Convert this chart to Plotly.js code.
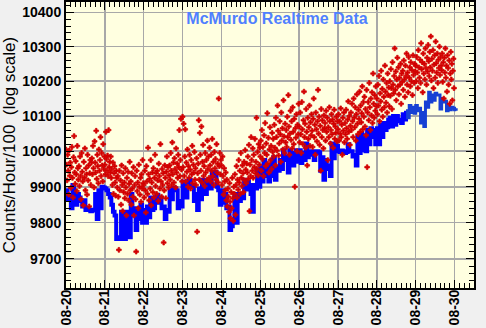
<!DOCTYPE html>
<html>
<head>
<meta charset="utf-8">
<script src="https://cdn.plot.ly/plotly-3.0.1.min.js"></script>
<style>html,body{margin:0;padding:0;background:#f0f0f0;}#chart{width:486px;height:328px;}</style>
</head>
<body>
<div id="chart"></div>
<script>
// ---- data ----
const chartTitle = 'McMurdo Realtime Data';
const yTitle = 'Counts/Hour/100\u00a0 (log scale)';
const xTickLabels = ['08-20','08-21','08-22','08-23','08-24','08-25','08-26','08-27','08-28','08-29','08-30'];
const yTickVals = [9700, 9800, 9900, 10000, 10100, 10200, 10300, 10400];

// red points: one value every 20 minutes, starting 08-20 00:00
const redStart = '2014-08-20T00:00:00Z';
const redStepMinutes = 20;
const red20 = [10005,9962,9918,9990,9945,9878,10002,9931,9968,9897,9955,10012,9925,9870,9983,10043,9940,9908,9972,9935,9888,10015,9952,9920,
  9958,9902,9985,9930,9865,9995,9942,9915,9848,9970,9925,10008,9890,9952,9935,9878,9990,9918,9960,9845,9938,9975,9905,9968,
  9980,9935,10015,9952,9898,10028,9968,9940,10058,9922,9990,9958,9910,10005,9945,9975,10040,9930,9995,9960,9915,10020,9950,9985];
const red21 = [9962,9935,10055,9978,9945,9988,9930,10060,9955,9970,9940,9985,9925,9950,9905,9968,9880,9938,9958,9912,9875,9945,9925,9898,
  9930,9872,9725,9945,9890,9918,9850,9960,9905,9832,9938,9885,9912,9868,9952,9898,9820,9925,9880,9942,9862,9908,9970,9890,
  9915,9850,9938,9895,9872,9955,9820,9905,9930,9865,9720,9945,9888,9912,9840,9962,9900,9878,9925,9858,9935,9895,9975,9910];
const red22 = [9905,9870,9945,9890,9828,9958,9915,9880,10010,9935,9862,9922,9895,9975,9848,9912,9940,9885,9952,9870,9925,9990,9902,9938,
  9880,9945,9918,9860,9965,9930,9895,10020,9915,9872,9950,9905,9938,9745,9890,9960,9925,9868,9942,9985,9910,9955,9898,9932,
  9960,9920,9995,9945,9905,10025,9935,9968,9912,9980,9950,9898,10008,9940,9965,9925,9990,9955,10060,9930,9975,10092,9948,9915];
const red23 = [10098,9955,10078,9930,9985,10062,9915,9968,9942,10005,9900,9958,9925,9990,9948,9895,9975,9935,10015,9910,9962,9940,9998,9920,
  9952,9905,9980,9775,9938,9965,10088,9920,10052,9990,9945,10070,9912,9970,10018,9930,9958,9902,9995,9940,9975,9918,10030,9950,
  9985,9925,10010,9960,9915,9990,9945,10035,9930,9970,9905,9998,9952,9978,9920,10020,9940,9965,9912,10150,9958,9995,9935,9975];
const red24 = [9960,9905,9985,9930,9878,9952,9915,9890,9940,9862,9920,9845,9895,9872,9830,9910,9858,9812,9885,9840,9925,9868,9805,9900,
  9880,9935,9822,9905,9958,9870,9920,9892,9975,9912,9945,9880,9995,9925,9902,9960,9938,9885,9970,9918,10003,9948,9910,9965,
  9940,9985,9922,10018,9832,9962,9930,10040,9975,9945,10008,9925,9990,9955,10035,9938,9970,10095,9950,9998,9932,10020,9962,10010];
const red25 = [9985,10030,9945,10060,9978,10012,9930,10045,9995,10080,9958,10022,9990,10108,9965,10038,9940,10005,10068,9975,10015,9950,10052,9998,
  10035,9985,10075,10010,9960,10095,10040,10002,10130,10058,9988,10022,10085,10048,9970,10110,10030,10065,10005,10145,10042,9995,10078,10025,
  10060,10012,10098,10040,10160,10070,9990,10050,10115,10032,10085,10008,10125,10055,10020,10092,9900,10065,10038,10105,10000,10075,10048,10135];
const red26 = [10070,10025,10110,10048,9995,10140,10062,10020,10088,10170,10040,10078,10010,10120,10055,9960,10095,10035,10068,10130,10015,10082,10045,10105,
  10058,10012,10092,10150,10040,10075,9990,10110,10062,10028,10085,10175,10050,10098,10018,10072,9945,10120,10040,10088,10060,10008,10102,10065,
  10080,10030,10115,10055,10095,9975,10068,10040,10125,10085,10022,10060,10105,10048,10090,10010,10078,10118,10035,10070,10052,10098,10028,10085];
const red27 = [10062,10105,10030,10085,10050,10122,10040,10075,9990,10095,10058,10110,10025,10080,10048,10118,10065,10035,10090,10142,10055,10100,10018,10072,
  10110,10060,10135,10085,10040,10150,10095,10068,10125,10030,10105,10162,10078,10048,10118,10092,10170,10055,10130,10082,10108,10185,10062,10140,
  10098,10155,10070,10120,10045,10175,9955,10110,10140,10088,10195,10125,10060,10150,10102,10168,10080,10222,10135,10095,10160,10115,10185,10128];
const red28 = [10150,10105,10190,10130,10215,10085,10165,10142,10230,10118,10178,10098,10205,10155,10125,10245,10170,10138,10195,10110,10222,10160,10182,10128,
  10200,10158,10235,10180,10120,10255,10190,10165,10215,10295,10175,10228,10145,10205,10268,10185,10240,10162,10210,10190,10250,10135,10222,10198,
  10230,10175,10260,10205,10155,10245,10215,10280,10190,10225,10168,10270,10210,10240,10185,10255,10200,10232,10160,10275,10218,10195,10250,10228];
const red29 = [10245,10200,10270,10225,10180,10290,10240,10210,10262,10195,10310,10235,10255,10168,10280,10222,10250,10205,10295,10238,10190,10268,10228,10305,
  10258,10215,10285,10240,10330,10202,10265,10230,10290,10180,10248,10275,10210,10315,10252,10225,10280,10195,10262,10238,10300,10218,10270,10245,
  10232,10280,10198,10255,10150,10268,10225,10295,10210,10245,10170,10275,10238,10190,10260,10135,10222,10285,10205,10250,10145,10230,10265,10180];

// blue line: hourly values starting 08-20 00:00
const blueStart = '2014-08-20T00:00:00Z';
const blueHourly = [9890,9865, 9875,9840, 9905,9880, 9850,9880, 9870,9860, 9845,9862, 9835,9838, 9835,9832, 9836,9834, 9880,9810,
  9890,9840, 9900,9898, 9895,9890, 9880,9870, 9850,9830, 9820,9755, 9760,9755, 9830,9800, 9755,9830, 9800,9760,
  9880,9820, 9840,9780, 9840,9810, 9850,9800, 9835,9800, 9845,9815, 9870,9835, 9840,9870, 9878,9855, 9870,9840,
  9845,9810, 9835,9830, 9890,9865, 9897,9895, 9890,9840, 9860,9845, 9915,9870, 9870,9915, 9920,9900, 9905,9860,
  9880,9835, 9895,9865, 9920,9895, 9880,9918, 9905,9895, 9942,9930, 9942,9900, 9890,9850, 9890,9855, 9880,9840,
  9845,9780, 9790,9800, 9880,9800, 9880,9860, 9875,9868, 9920,9892, 9915,9905, 9880,9830, 9905,9895, 9948,9900,
  9955,9915, 9975,9930, 9960,9915, 9930,9975, 9983,9920, 9955,9945, 9975,9950, 10003,9975, 9985,9940, 10003,9970,
  9960,9995, 10003,9970, 10003,9967, 9995,9975, 10022,9983, 10000,9990, 10000,9975, 9995,10000, 9997,9945, 9983,9920,
  9975,9950, 9960,9930, 10022,9980, 10020,10015, 10000,9998, 10002,10000, 9995,9998, 10020,10000, 10000,9985, 9990,9960,
  10040,9995, 10052,10003, 10045,10000, 10060,10020, 10065,10040, 10060,10020, 10065,10020, 10075,10040, 10080,10060, 10068,10090,
  10095,10070, 10100,10075, 10100,10085, 10090,10080, 10105,10090, 10115,10095, 10130,10110, 10125,10108, 10130,10115, 10122,10080,
  10110,10070, 10140,10125, 10168,10140, 10160,10145, 10165,10160, 10160,10120, 10150,10140, 10142,10115, 10130,10118, 10125,10122,
  10118,10115];
const blueSplitHour = 210;

// ---- build ----
function iso(ms){ return new Date(ms).toISOString().slice(0,19).replace('T',' '); }
const redVals = [].concat(red20,red21,red22,red23,red24,red25,red26,red27,red28,red29);
const r0 = Date.parse(redStart);
const redTimes = redVals.map((v,i)=>iso(r0 + i*redStepMinutes*60000));
const b0 = Date.parse(blueStart);
const blueTimes = blueHourly.map((v,i)=>iso(b0 + i*3600000));

const minorY = [];
for (let v = 9620; v <= 10440; v += 20) minorY.push(v);

const tickFont = {family:'Liberation Sans, Arial, sans-serif', size:14, weight:'bold', color:'#000'};

const traces = [
  {type:'scatter', mode:'lines', x:blueTimes.slice(0,blueSplitHour+1), y:blueHourly.slice(0,blueSplitHour+1),
   line:{shape:'hv', width:4, color:'#0000ff'}, hoverinfo:'skip'},
  {type:'scatter', mode:'lines', x:blueTimes.slice(blueSplitHour), y:blueHourly.slice(blueSplitHour),
   line:{shape:'hv', width:3, color:'#1640d4'}, hoverinfo:'skip'},
  {type:'scatter', mode:'markers', x:redTimes, y:redVals,
   marker:{symbol:'cross', size:4, color:'#d20000', line:{width:0.7, color:'#d20000'}}, hoverinfo:'skip'}
];

const layout = {
  width:486, height:328,
  paper_bgcolor:'#f0f0f0', plot_bgcolor:'#ffffe0',
  margin:{l:66, r:12, t:2, b:40},
  showlegend:false,
  title:{text:chartTitle, x:277/486, xanchor:'center', xref:'container', y:1-18/328, yanchor:'middle', yref:'container',
         font:{family:'Liberation Sans, Arial, sans-serif', size:16, weight:'bold', color:'#5080ff'}},
  xaxis:{
    type:'date',
    range:['2014-08-20 00:00:00','2014-08-30 12:00:00'],
    tickmode:'array',
    tickvals:xTickLabels.map(t=>'2014-'+t+' 00:00:00'),
    ticktext:xTickLabels,
    tickangle:-90,
    tickfont:tickFont,
    ticklabelstandoff:-6,
    ticks:'inside', ticklen:8, tickwidth:1, tickcolor:'#000',
    showgrid:true, gridcolor:'#a8a8a8', gridwidth:1.5,
    showline:true, linecolor:'#000', linewidth:2, mirror:'allticks',
    zeroline:false,
    minor:{dtick:3*3600000, ticks:'inside', ticklen:5, tickwidth:1, tickcolor:'#000', showgrid:false}
  },
  yaxis:{
    type:'log',
    range:[Math.log10(9620.6), Math.log10(10431)],
    tickmode:'array',
    tickvals:yTickVals,
    ticktext:yTickVals.map(String),
    tickfont:tickFont,
    ticks:'inside', ticklen:8, tickwidth:1, tickcolor:'#000',
    showgrid:true, gridcolor:'#a8a8a8', gridwidth:1.5,
    showline:true, linecolor:'#000', linewidth:2, mirror:'allticks',
    zeroline:false,
    title:{text:yTitle, font:{family:'Liberation Sans, Arial, sans-serif', size:17, color:'#000'}, standoff:8},
    minor:{tickmode:'array', tickvals:minorY, ticks:'inside', ticklen:5, tickwidth:1, tickcolor:'#000', showgrid:false}
  }
};

Plotly.newPlot('chart', traces, layout, {staticPlot:true, displayModeBar:false});
</script>
</body>
</html>
